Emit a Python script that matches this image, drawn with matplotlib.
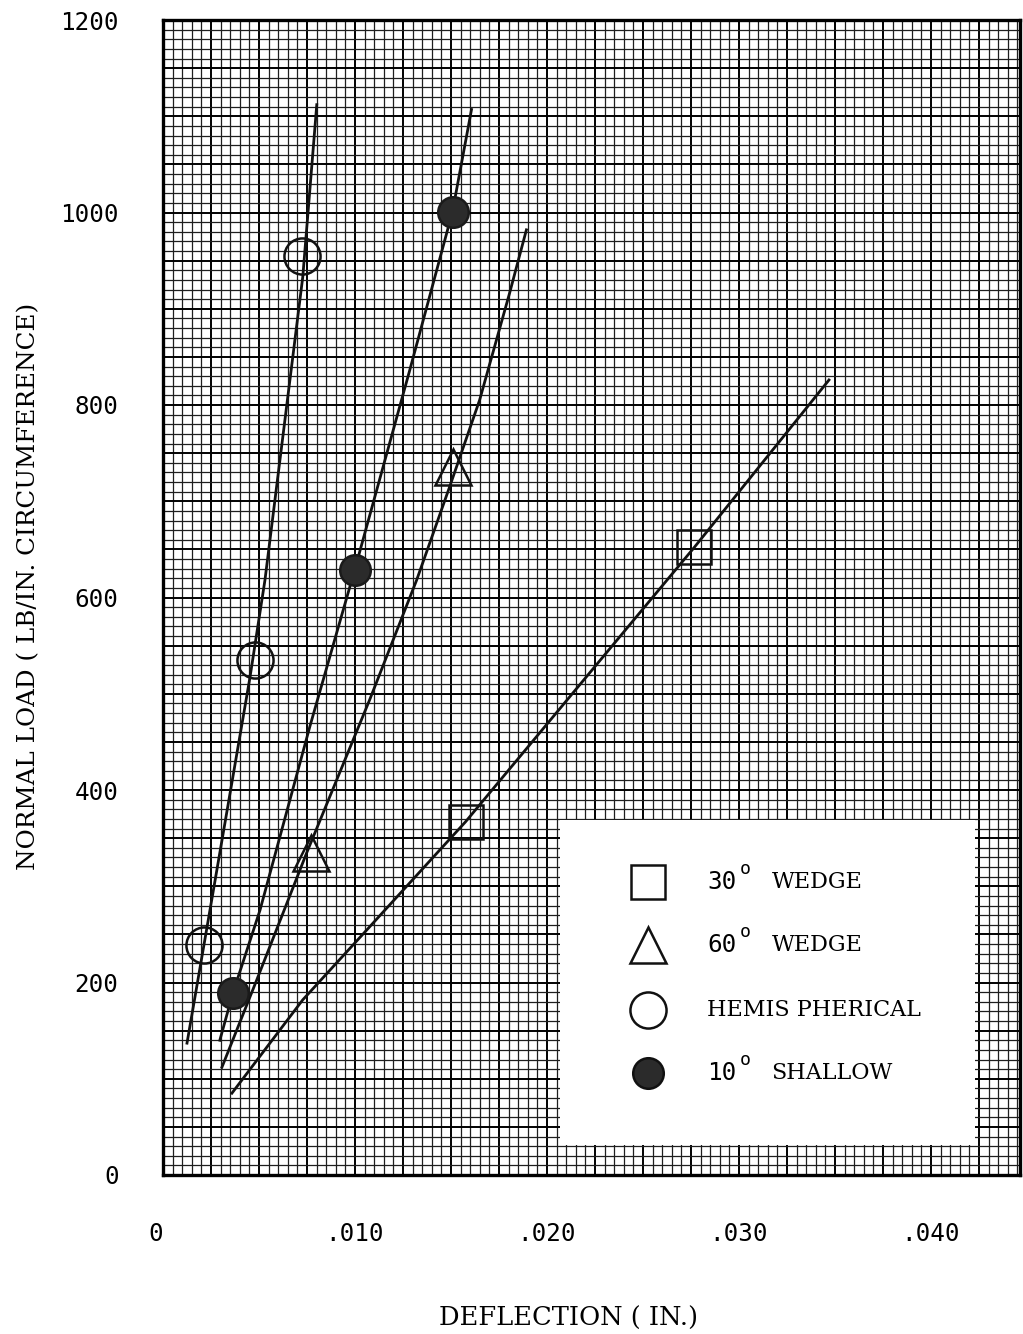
import matplotlib
matplotlib.use("Agg")
import matplotlib.pyplot as plt
from matplotlib.ticker import FixedLocator, MultipleLocator, FuncFormatter
from matplotlib.patches import Rectangle

LABEL_FONT = 'DejaVu Serif'
TICK_FONT = 'DejaVu Sans Mono'

# ---- data ----
wedge30_x = [0.01576, 0.02767]
wedge30_y = [367, 652]
wedge30_curve_x = [0.00359, 0.00728, 0.01077, 0.01576, 0.02767, 0.03469]
wedge30_curve_y = [85, 182, 258, 367, 652, 826]

wedge60_x = [0.00770, 0.01508]
wedge60_y = [335, 736]
wedge60_curve_x = [0.00307, 0.00489, 0.00749, 0.01077, 0.01321, 0.01493, 0.01649, 0.01805, 0.01893]
wedge60_curve_y = [112, 203, 335, 494, 618, 715, 805, 916, 982]

hemi_x = [0.00213, 0.00479, 0.00723]
hemi_y = [239, 535, 955]
hemi_curve_x = [0.00125, 0.00260, 0.00453, 0.00531, 0.00728, 0.00801]
hemi_curve_y = [137, 293, 517, 618, 933, 1112]

shallow_x = [0.00364, 0.00999, 0.01508]
shallow_y = [189, 629, 1001]
shallow_curve_x = [0.00296, 0.00364, 0.00505, 0.00765, 0.00999, 0.01285, 0.01508, 0.01607]
shallow_curve_y = [140, 189, 275, 466, 629, 836, 1001, 1107]

x_tick_vals = [0.0, 0.010, 0.020, 0.030, 0.040]
x_tick_labels = ['0', '.010', '.020', '.030', '.040']
y_tick_vals = [0, 200, 400, 600, 800, 1000, 1200]
y_tick_labels = ['0', '200', '400', '600', '800', '1000', '1200']

legend_numbers = ['30', '60', '', '10']
legend_words = ['WEDGE', 'WEDGE', 'HEMIS PHERICAL', 'SHALLOW']

# ---- figure ----
fig = plt.figure(figsize=(10.23, 13.34), dpi=100)
ax = fig.add_axes([163/1023, 1 - 1175/1334, 857/1023, 1155/1334])
ax.set_xlim(0, 0.04464)
ax.set_ylim(0, 1200)

# grid paper
xmaj = [i * 0.0025 for i in range(18)]
ymaj = [i * 50 for i in range(25)]
ax.xaxis.set_major_locator(FixedLocator(xmaj))
ax.yaxis.set_major_locator(FixedLocator(ymaj))
ax.xaxis.set_minor_locator(MultipleLocator(0.0005))
ax.yaxis.set_minor_locator(MultipleLocator(10))

def xfmt(v, pos):
    for tv, tl in zip(x_tick_vals, x_tick_labels):
        if abs(v - tv) < 1e-7:
            return tl
    return ''

def yfmt(v, pos):
    for tv, tl in zip(y_tick_vals, y_tick_labels):
        if abs(v - tv) < 1e-6:
            return tl
    return ''

ax.xaxis.set_major_formatter(FuncFormatter(xfmt))
ax.yaxis.set_major_formatter(FuncFormatter(yfmt))
ax.grid(which='minor', color='#1e1e1e', linewidth=0.9)
ax.grid(which='major', color='#000000', linewidth=1.4)
ax.set_axisbelow(True)
ax.tick_params(which='both', length=0)
ax.tick_params(axis='x', pad=34, labelsize=17.5)
ax.tick_params(axis='y', pad=32, labelsize=17.5)
for lab in ax.get_xticklabels() + ax.get_yticklabels():
    lab.set_fontfamily(TICK_FONT)
fig.canvas.draw()
for lab in ax.get_xticklabels():
    if lab.get_text() == '0':
        lab.set_horizontalalignment('right')

for s in ax.spines.values():
    s.set_linewidth(2.4)
    s.set_color('#000000')

ax.set_xlabel('DEFLECTION ( IN.)', fontfamily=LABEL_FONT, fontsize=18.5)
ax.xaxis.set_label_coords(0.4726, -0.113)
ax.set_ylabel('NORMAL LOAD ( LB/IN. CIRCUMFERENCE)', fontfamily=LABEL_FONT, fontsize=17.7)
ax.yaxis.set_label_coords(-0.143, 0.51)

# ---- curves and points ----
lw = 2.0
ax.plot(hemi_curve_x, hemi_curve_y, color='#111111', lw=lw, zorder=3)
ax.plot(shallow_curve_x, shallow_curve_y, color='#111111', lw=lw, zorder=3)
ax.plot(wedge60_curve_x, wedge60_curve_y, color='#111111', lw=lw, zorder=3)
ax.plot(wedge30_curve_x, wedge30_curve_y, color='#111111', lw=lw, zorder=3)

mew = 1.8
ax.plot(wedge30_x, wedge30_y, 's', ms=25, mfc='none', mec='#111111', mew=mew, zorder=4)
ax.plot(wedge60_x, wedge60_y, '^', ms=26, mfc='none', mec='#111111', mew=mew, zorder=4)
ax.plot(hemi_x, hemi_y, 'o', ms=26, mfc='none', mec='#111111', mew=mew, zorder=4)
ax.plot(shallow_x, shallow_y, 'o', ms=22, mfc='#2b2b2b', mec='#1a1a1a', mew=mew, zorder=4)

# ---- legend box ----
ax.add_patch(Rectangle((0.463, 0.026), 0.4845, 0.281, transform=ax.transAxes,
                       facecolor='white', edgecolor='none', zorder=5))
leg_styles = [
    dict(marker='s', ms=25, mfc='none'),
    dict(marker='^', ms=26, mfc='none'),
    dict(marker='o', ms=26, mfc='none'),
    dict(marker='o', ms=22, mfc='#2b2b2b'),
]
leg_rows = [0.2537, 0.1991, 0.1429, 0.0883]
for st, yy, num, word in zip(leg_styles, leg_rows, legend_numbers, legend_words):
    ax.plot([0.566], [yy], transform=ax.transAxes, linestyle='none',
            mec='#111111', mew=mew, zorder=6, clip_on=False, **st)
    if num:
        ax.text(0.635, yy, num, transform=ax.transAxes, fontfamily=TICK_FONT,
                fontsize=17.5, va='center', ha='left', zorder=6)
        ax.text(0.673, yy + 0.011, 'o', transform=ax.transAxes, fontfamily=TICK_FONT,
                fontsize=13, va='center', ha='left', zorder=6)
        ax.text(0.710, yy, word, transform=ax.transAxes, fontfamily=LABEL_FONT,
                fontsize=16, va='center', ha='left', zorder=6)
    else:
        ax.text(0.635, yy, word, transform=ax.transAxes, fontfamily=LABEL_FONT,
                fontsize=16, va='center', ha='left', zorder=6)

fig.savefig('out.png', dpi=100, facecolor='white')
